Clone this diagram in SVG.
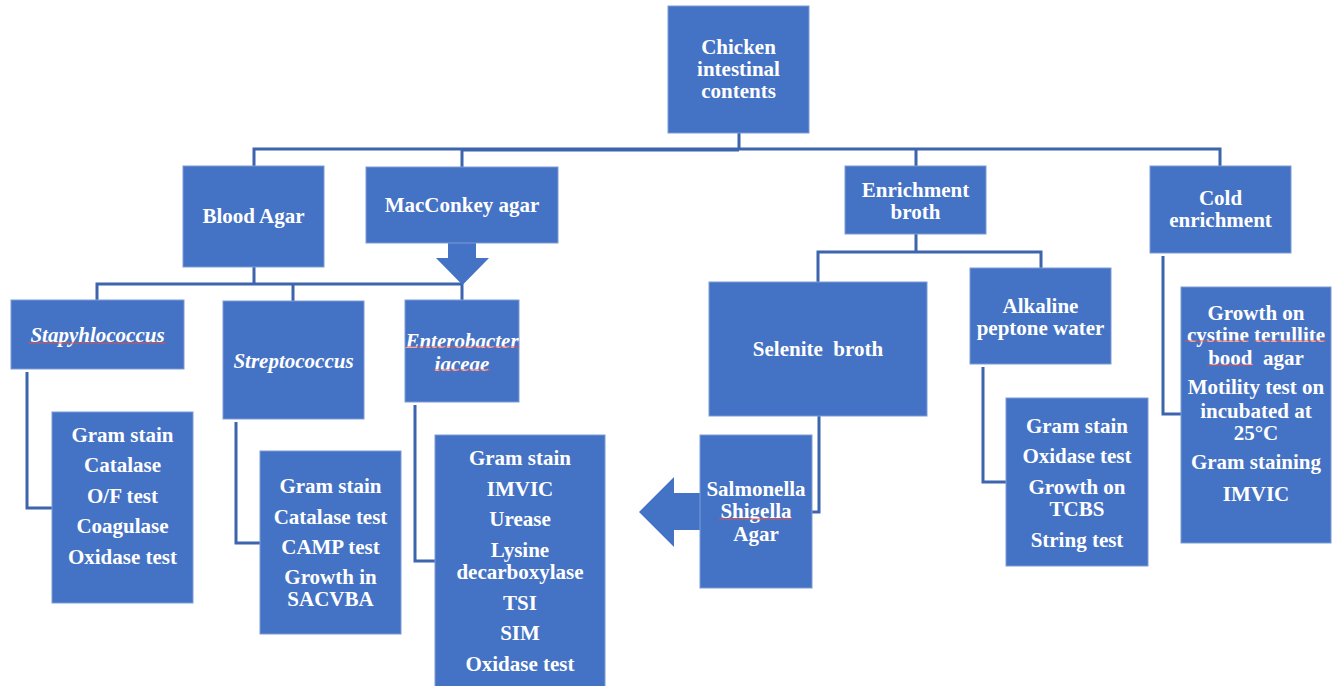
<svg xmlns="http://www.w3.org/2000/svg" width="1341" height="686" viewBox="0 0 1341 686">
<style>
.box{fill:#4472C4;stroke:#7C9BD6;stroke-width:1}
.t{font-family:"Liberation Serif","Times New Roman",serif;font-size:21px;font-weight:bold;fill:#ffffff;text-anchor:middle}
.i{font-style:italic}
.c{fill:none;stroke:#3C65AE;stroke-width:3}
.sq{fill:none;stroke:#D9534F;stroke-width:1}
</style>
<rect width="1341" height="686" fill="#ffffff"/>
<g id="connectors">
<path class="c" d="M739,133 V149 M254,167 V149 H1220 V166 M462,149 V168 M916,149 V166"/>
<path class="c" d="M462,150 H739" stroke-width="4"/>
<path class="c" d="M254,267 V284 M97,300 V284 H462 V300 M293,284 V301"/>
<path class="c" d="M27,372 V508 H52"/>
<path class="c" d="M236,422 V543 H260"/>
<path class="c" d="M415,405 V561 H435"/>
<path class="c" d="M916,234 V252 M818,282 V252 H1041 V268"/>
<path class="c" d="M819,416 V512 H812"/>
<path class="c" d="M983,367 V482 H1006"/>
<path class="c" d="M1163,256 V414 H1181"/>
<polygon fill="#4472C4" points="448,243 476,243 476,258 489,258 462.5,285 436,258 448,258"/>
<polygon fill="#4472C4" points="701,493 674,493 674,477 639,512 674,547 674,530 701,530"/>
</g>
<g id="chicken">
<rect class="box" x="668" y="6" width="141" height="127"/>
<text class="t" x="738.5"><tspan x="738.5" y="54">Chicken</tspan><tspan x="738.5" y="76">intestinal</tspan><tspan x="738.5" y="98">contents</tspan></text>
</g>
<g id="blood-agar">
<rect class="box" x="183" y="166" width="141" height="101"/>
<text class="t" x="253.5" y="223">Blood Agar</text>
</g>
<g id="macconkey">
<rect class="box" x="366" y="167" width="192" height="76"/>
<text class="t" x="462" y="212">MacConkey agar</text>
</g>
<g id="enrichment-broth">
<rect class="box" x="845" y="166" width="141" height="68"/>
<text class="t"><tspan x="915.5" y="197">Enrichment</tspan><tspan x="915.5" y="219">broth</tspan></text>
</g>
<g id="cold-enrichment">
<rect class="box" x="1150" y="166" width="141" height="87"/>
<text class="t"><tspan x="1220.5" y="205">Cold</tspan><tspan x="1220.5" y="227">enrichment</tspan></text>
</g>
<g id="staphylococcus">
<rect class="box" x="11" y="300" width="173" height="69"/>
<text class="t i" x="97.5" y="342">Stapyhlococcus</text>
</g>
<g id="streptococcus">
<rect class="box" x="223" y="301" width="141" height="118"/>
<text class="t i" x="293.5" y="368">Streptococcus</text>
</g>
<g id="enterobacteriaceae">
<rect class="box" x="405" y="300" width="114" height="102"/>
<text class="t i"><tspan x="462" y="348">Enterobacter</tspan><tspan x="462" y="371">iaceae</tspan></text>
</g>
<g id="selenite">
<rect class="box" x="709" y="282" width="218" height="134"/>
<text class="t" x="818" y="356">Selenite&#160; broth</text>
</g>
<g id="alkaline">
<rect class="box" x="970" y="268" width="141" height="96"/>
<text class="t"><tspan x="1040.5" y="313">Alkaline</tspan><tspan x="1040.5" y="335">peptone water</tspan></text>
</g>
<g id="staph-tests">
<rect class="box" x="52" y="412" width="141" height="191"/>
<text class="t"><tspan x="122.5" y="442">Gram stain</tspan><tspan x="122.5" y="472">Catalase</tspan><tspan x="122.5" y="503">O/F test</tspan><tspan x="122.5" y="533">Coagulase</tspan><tspan x="122.5" y="564">Oxidase test</tspan></text>
</g>
<g id="strep-tests">
<rect class="box" x="260" y="451" width="141" height="183"/>
<text class="t"><tspan x="330.5" y="493">Gram stain</tspan><tspan x="330.5" y="524">Catalase test</tspan><tspan x="330.5" y="554">CAMP test</tspan><tspan x="330.5" y="584">Growth in</tspan><tspan x="330.5" y="606">SACVBA</tspan></text>
</g>
<g id="entero-tests">
<rect class="box" x="435" y="435" width="170" height="260"/>
<text class="t"><tspan x="520" y="465">Gram stain</tspan><tspan x="520" y="496">IMVIC</tspan><tspan x="520" y="526">Urease</tspan><tspan x="520" y="557">Lysine</tspan><tspan x="520" y="579">decarboxylase</tspan><tspan x="520" y="610">TSI</tspan><tspan x="520" y="640">SIM</tspan><tspan x="520" y="671">Oxidase test</tspan></text>
</g>
<g id="ss-agar">
<rect class="box" x="700" y="435" width="112" height="153"/>
<text class="t"><tspan x="756" y="496">Salmonella</tspan><tspan x="756" y="518">Shigella</tspan><tspan x="756" y="541">Agar</tspan></text>
</g>
<g id="alkaline-tests">
<rect class="box" x="1006" y="398" width="142" height="168"/>
<text class="t"><tspan x="1077" y="433">Gram stain</tspan><tspan x="1077" y="463">Oxidase test</tspan><tspan x="1077" y="494">Growth on</tspan><tspan x="1077" y="516">TCBS</tspan><tspan x="1077" y="547">String test</tspan></text>
</g>
<g id="cold-tests">
<rect class="box" x="1181" y="287" width="150" height="256"/>
<text class="t"><tspan x="1256" y="320">Growth on</tspan><tspan x="1256" y="342">cystine terullite</tspan><tspan x="1256" y="365">bood&#160; agar</tspan><tspan x="1256" y="394">Motility test on</tspan><tspan x="1256" y="418">incubated at</tspan><tspan x="1256" y="440">25°C</tspan><tspan x="1256" y="469">Gram staining</tspan><tspan x="1256" y="501">IMVIC</tspan></text>
</g>
<g id="spellcheck-marks">
<path class="sq" d="M28,343 H166 M405,347 H519 M433,370 H490 M719,519 H792 M1185,341 H1248 M1254,341 H1326 M1207,365 H1252"/>
</g>
</svg>
